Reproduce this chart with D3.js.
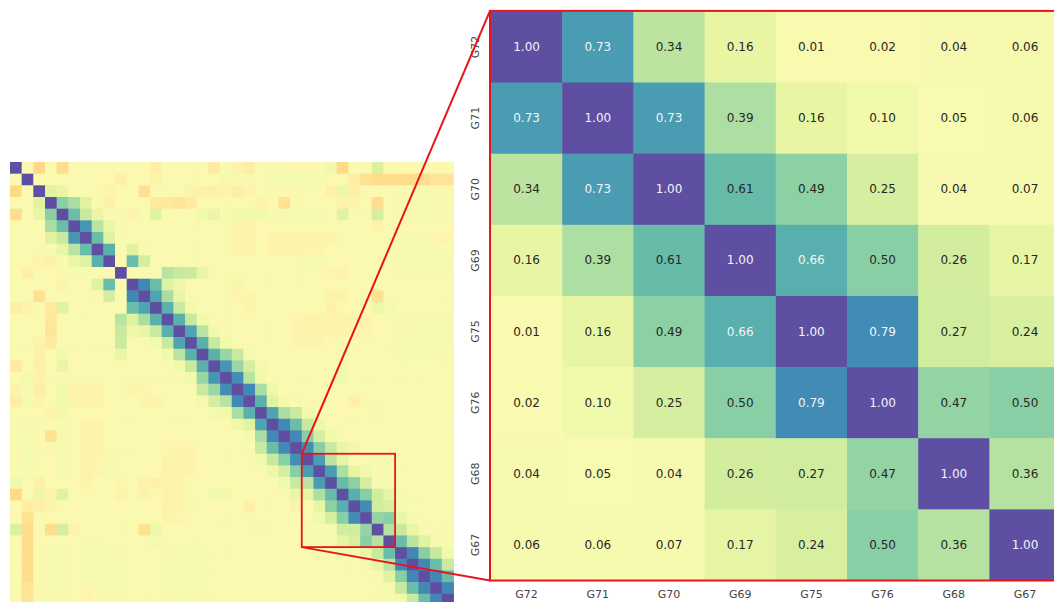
<!doctype html>
<html>
<head>
<meta charset="utf-8">
<script src="https://d3js.org/d3.v7.min.js"></script>
<style>
  body { margin: 0; background: #fff; }
  svg { display: block; font-family: "DejaVu Sans", sans-serif; }
</style>
</head>
<body>
<svg width="1054" height="602"></svg>
<script>

    // zoomed block, rows/cols 25..32 of the full matrix
    var zoomLabels = ["G72", "G71", "G70", "G69", "G75", "G76", "G68", "G67"];
    var zoomValues = [
        [1.00, 0.73, 0.34, 0.16, 0.01, 0.02, 0.04, 0.06],
        [0.73, 1.00, 0.73, 0.39, 0.16, 0.10, 0.05, 0.06],
        [0.34, 0.73, 1.00, 0.61, 0.49, 0.25, 0.04, 0.07],
        [0.16, 0.39, 0.61, 1.00, 0.66, 0.50, 0.26, 0.17],
        [0.01, 0.16, 0.49, 0.66, 1.00, 0.79, 0.27, 0.24],
        [0.02, 0.10, 0.25, 0.50, 0.79, 1.00, 0.47, 0.50],
        [0.04, 0.05, 0.04, 0.26, 0.27, 0.47, 1.00, 0.36],
        [0.06, 0.06, 0.07, 0.17, 0.24, 0.50, 0.36, 1.00]
    ];
    var zoomStart = 25;

    // full correlation matrix (38 x 38), upper triangle in hundredths
    // row i holds columns i+1 .. 37, diagonal is 1
    var upperRows = [
        [0,-22,-1,-20,0,1,0,-1,0,1,0,-10,0,1,0,1,-12,2,-5,-10,0,0,1,0,0,2,10,-22,2,1,22,2,0,0,1,0,0],
        [0,1,0,0,1,0,0,-8,0,1,-5,0,0,1,0,2,8,4,4,1,7,7,7,7,7,0,0,-10,-18,-20,-20,-20,-20,-20,-16,-16],
        [20,15,2,0,1,-6,0,1,-18,0,1,0,-6,-8,-8,-6,-10,-6,0,1,0,0,1,0,-8,12,-8,0,1,0,1,0,1,0,0],
        [50,40,20,5,-8,0,0,2,-12,-14,-15,-12,0,2,2,0,1,-6,0,-18,1,0,0,0,-6,-5,0,-20,0,6,6,6,4,1],
        [60,30,15,5,0,-5,2,20,2,2,2,10,15,2,10,10,10,1,6,6,6,6,1,20,1,1,25,1,6,6,6,4,1],
        [75,35,15,5,0,1,0,1,0,1,0,0,1,-5,-5,0,1,0,0,1,0,0,1,0,0,-6,0,1,0,1,0,0],
        [60,20,5,1,0,1,0,1,0,0,1,0,-6,-6,0,-6,-6,-6,-6,-6,-5,0,1,0,1,4,4,4,4,-4,-4],
        [65,2,20,2,0,1,0,1,0,0,1,-5,-5,0,-5,-5,-5,-4,-4,0,1,0,0,1,4,4,4,4,4,1],
        [0,60,25,2,1,0,1,0,1,0,0,1,0,1,0,0,6,6,1,0,0,1,0,0,4,4,4,4,4],
        [0,1,2,35,30,28,15,2,0,1,0,0,1,0,0,1,0,-4,-5,0,1,0,0,4,4,4,4,4],
        [80,60,20,12,2,1,0,1,-5,0,1,0,0,1,0,0,1,0,0,1,2,0,1,0,1,0,0],
        [70,40,15,2,1,0,1,-4,-5,0,1,0,0,1,0,-6,-6,0,1,-18,0,1,0,1,0,0],
        [65,30,10,1,0,1,0,-5,0,1,0,0,1,0,-8,0,0,1,12,8,1,0,1,0,0],
        [65,30,10,1,0,1,0,0,1,0,-4,-5,-5,-5,-5,-5,-5,0,1,0,4,4,4,4],
        [70,35,10,1,0,0,1,0,0,-4,-5,-5,-5,-5,-5,-4,0,1,4,4,4,4,4],
        [65,30,10,1,0,0,1,0,-4,-4,-4,0,0,1,0,0,1,6,6,6,4,4],
        [65,45,30,8,0,1,0,0,1,0,0,1,0,0,1,0,6,6,6,4,1],
        [75,45,25,8,0,1,0,0,1,0,10,0,1,0,0,1,0,1,0,0],
        [78,35,10,1,0,0,1,0,0,10,0,1,0,0,1,0,1,0,0],
        [80,40,12,1,0,0,1,0,0,1,0,0,1,0,0,1,0,0],
        [65,20,8,1,0,0,1,0,-8,0,1,0,0,1,0,0,1],
        [70,40,30,10,1,0,0,1,0,6,0,1,0,0,1,0],
        [80,60,30,12,1,0,0,1,0,0,1,0,0,1,0],
        [80,50,25,10,1,0,0,1,0,0,1,0,0,1],
        [78,50,30,15,-5,1,0,0,1,0,0,1,0],
        [73,34,16,1,2,4,6,1,0,0,1,0],
        [73,39,16,10,5,6,1,0,1,0,0],
        [61,49,25,4,7,1,0,0,1,0],
        [66,50,26,17,4,1,0,0,1],
        [79,27,24,6,2,1,0,0],
        [47,50,15,6,1,0,0],
        [36,30,15,4,1,0],
        [60,35,20,8,5],
        [80,50,30,10],
        [80,60,30],
        [80,60],
        [80],
        []
    ];

    var n = upperRows.length;
    var svg = d3.select("svg");
    svg.append("rect").attr("width", 1054).attr("height", 602).attr("fill", "#fff");

    var color = d3.scaleSequential(d3.interpolateSpectral).domain([-1, 1]);

    function corr(i, j) {
        if (i === j) return 1;
        if (i < j) return upperRows[i][j - i - 1] / 100;
        return upperRows[j][i - j - 1] / 100;
    }

    var cells = [];
    for (var i = 0; i < n; i++) {
        for (var j = 0; j < n; j++) {
            cells.push({ r: i, c: j, v: corr(i, j) });
        }
    }

    // overview heatmap (bottom rows run off the page)
    var cell = 11.67;
    var bx = d3.scaleBand().domain(d3.range(n)).range([10, 10 + n * cell]);
    var by = d3.scaleBand().domain(d3.range(n)).range([162, 162 + n * cell]);

    svg.append("g").selectAll("rect")
        .data(cells)
        .enter().append("rect")
        .attr("x", function(d) { return bx(d.c); })
        .attr("y", function(d) { return by(d.r); })
        .attr("width", bx.bandwidth() + 0.5)
        .attr("height", by.bandwidth() + 0.5)
        .attr("fill", function(d) { return color(d.v); });

    // zoomed heatmap
    var zx = d3.scaleBand().domain(zoomLabels).range([491, 491 + 8 * 71.2]);
    var zy = d3.scaleBand().domain(zoomLabels).range([11.4, 11.4 + 8 * 71.14]);

    var zcells = [];
    zoomValues.forEach(function(row, i) {
        row.forEach(function(v, j) {
            zcells.push({ r: zoomLabels[i], c: zoomLabels[j], v: v });
        });
    });

    function lum(c) {
        var rgb = d3.rgb(c);
        var ch = [rgb.r, rgb.g, rgb.b].map(function(x) {
            x = x / 255;
            return x <= 0.03928 ? x / 12.92 : Math.pow((x + 0.055) / 1.055, 2.4);
        });
        return 0.2126 * ch[0] + 0.7152 * ch[1] + 0.0722 * ch[2];
    }

    var zg = svg.append("g");
    zg.selectAll("rect")
        .data(zcells)
        .enter().append("rect")
        .attr("x", function(d) { return zx(d.c); })
        .attr("y", function(d) { return zy(d.r); })
        .attr("width", zx.bandwidth() + 0.5)
        .attr("height", zy.bandwidth() + 0.5)
        .attr("fill", function(d) { return color(d.v); });

    zg.selectAll("text")
        .data(zcells)
        .enter().append("text")
        .attr("x", function(d) { return zx(d.c) + zx.bandwidth() / 2; })
        .attr("y", function(d) { return zy(d.r) + zy.bandwidth() / 2; })
        .attr("text-anchor", "middle")
        .attr("dominant-baseline", "central")
        .attr("font-size", "12px")
        .attr("fill", function(d) { return lum(color(d.v)) > 0.408 ? "#262626" : "#f4f4f8"; })
        .text(function(d) { return d.v.toFixed(2); });

    // tick labels
    var xAxis = svg.append("g")
        .attr("transform", "translate(0," + zy.range()[1] + ")")
        .call(d3.axisBottom(zx).tickSize(0).tickPadding(10));
    xAxis.select(".domain").remove();
    xAxis.selectAll("text").attr("font-size", "11px").attr("fill", "#444")
        .attr("font-family", "DejaVu Sans, sans-serif");

    var yAxis = svg.append("g")
        .attr("transform", "translate(" + zx.range()[0] + ",0)")
        .call(d3.axisLeft(zy).tickSize(0));
    yAxis.select(".domain").remove();
    yAxis.selectAll("text")
        .attr("x", 0).attr("dy", null)
        .attr("transform", "translate(-16,0) rotate(-90)")
        .attr("text-anchor", "middle")
        .attr("dominant-baseline", "central")
        .attr("font-size", "11px").attr("fill", "#444")
        .attr("font-family", "DejaVu Sans, sans-serif");

    // red zoom markers
    var red = "#e8141c";
    var sx0 = bx(zoomStart), sy0 = by(zoomStart),
        sx1 = bx(zoomStart + 7) + bx.bandwidth(), sy1 = by(zoomStart + 7) + by.bandwidth();
    var zx0 = zx.range()[0] - 1, zy0 = zy.range()[0] - 0.5, zy1 = zy.range()[1];

    svg.append("rect")
        .attr("x", sx0).attr("y", sy0)
        .attr("width", sx1 - sx0).attr("height", sy1 - sy0)
        .attr("fill", "none").attr("stroke", red).attr("stroke-width", 1.8);

    svg.append("line").attr("x1", sx0).attr("y1", sy0).attr("x2", zx0).attr("y2", zy0)
        .attr("stroke", red).attr("stroke-width", 2);
    svg.append("line").attr("x1", sx0).attr("y1", sy1).attr("x2", zx0).attr("y2", zy1)
        .attr("stroke", red).attr("stroke-width", 2);

    svg.append("rect")
        .attr("x", zx0).attr("y", zy0)
        .attr("width", zx.range()[1] - zx0 + 2).attr("height", zy1 - zy0)
        .attr("fill", "none").attr("stroke", red).attr("stroke-width", 2);

</script>
</body>
</html>
